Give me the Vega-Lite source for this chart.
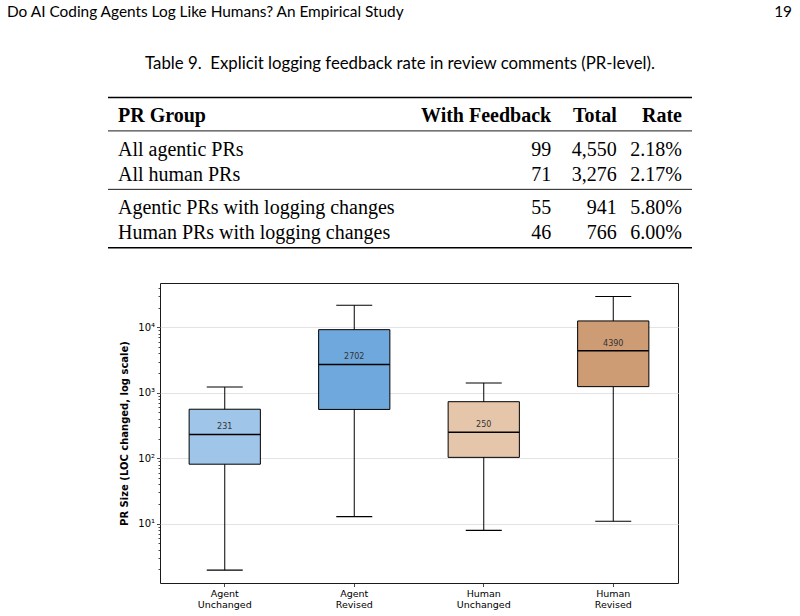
{
  "$schema": "https://vega.github.io/schema/vega-lite/v6.json",
  "padding": 0,
  "background": "white",
  "spacing": 0,
  "datasets": {
    "feedback": [
      {"group": "All agentic PRs", "with_feedback": 99, "total": 4550, "rate": 0.0218},
      {"group": "All human PRs", "with_feedback": 71, "total": 3276, "rate": 0.0217},
      {"group": "Agentic PRs with logging changes", "with_feedback": 55, "total": 941, "rate": 0.058},
      {"group": "Human PRs with logging changes", "with_feedback": 46, "total": 766, "rate": 0.06}
    ],
    "rules": [
      {"line": "rule top"},
      {"line": "rule header"},
      {"line": "rule groups"},
      {"line": "rule bottom"}
    ],
    "pr_size": [
      {"group": "Agent Unchanged", "lower": 1.95, "q1": 81, "median": 231, "q3": 560, "upper": 1222},
      {"group": "Agent Revised", "lower": 12.8, "q1": 556, "median": 2702, "q3": 9200, "upper": 21700},
      {"group": "Human Unchanged", "lower": 7.9, "q1": 103, "median": 250, "q3": 730, "upper": 1410},
      {"group": "Human Revised", "lower": 10.9, "q1": 1240, "median": 4390, "q3": 12500, "upper": 29500}
    ]
  },
  "vconcat": [
    {
      "width": 800,
      "height": 282,
      "view": {"stroke": null},
      "layer": [
        {
          "data": {"name": "rules"},
          "mark": {"type": "rule", "color": "black"},
          "encoding": {
            "x": {"datum": 0.135, "type": "quantitative", "scale": {"domain": [0, 1], "nice": false, "zero": false}, "axis": null},
            "x2": {"datum": 0.865},
            "y": {
              "field": "line",
              "type": "nominal",
              "axis": null,
              "scale": {
                "type": "point",
                "padding": 0,
                "range": [14, 247.8],
                "domain": ["running head", "g1", "g2", "g3", "g4", "g5", "caption", "g6", "g7", "g8", "rule top", "g9", "header", "g10", "rule header", "g11", "All agentic PRs", "g12", "g13", "All human PRs", "g14", "rule groups", "g15", "Agentic PRs with logging changes", "g16", "g17", "Human PRs with logging changes", "g18", "rule bottom"]
              }
            },
            "strokeWidth": {
              "condition": {"test": "datum.line === 'rule top' || datum.line === 'rule bottom'", "value": 1.5},
              "value": 0.9
            }
          }
        },
        {
          "data": {"values": [{"text": "Do AI Coding Agents Log Like Humans? An Empirical Study"}]},
          "mark": {"type": "text", "align": "left", "baseline": "middle", "font": "Lato", "fontSize": 15.4, "color": "black", "dy": -2},
          "encoding": {
            "x": {"datum": 0.00875, "type": "quantitative", "axis": null},
            "y": {"datum": "running head", "type": "nominal", "axis": null},
            "text": {"field": "text"}
          }
        },
        {
          "data": {"values": [{"text": "19"}]},
          "mark": {"type": "text", "align": "right", "baseline": "middle", "font": "Lato", "fontSize": 15.4, "color": "black", "dy": -2},
          "encoding": {
            "x": {"datum": 0.99, "type": "quantitative", "axis": null},
            "y": {"datum": "running head", "type": "nominal", "axis": null},
            "text": {"field": "text"}
          }
        },
        {
          "data": {"values": [{"text": "Table 9.\u00a0\u00a0Explicit logging feedback rate in review comments (PR-level)."}]},
          "mark": {"type": "text", "align": "center", "baseline": "middle", "font": "Lato", "fontSize": 16.8, "color": "black"},
          "encoding": {
            "x": {"datum": 0.5, "type": "quantitative", "axis": null},
            "y": {"datum": "caption", "type": "nominal", "axis": null},
            "text": {"field": "text"}
          }
        },
        {
          "data": {"values": [{"text": "PR Group"}]},
          "mark": {"type": "text", "align": "left", "baseline": "middle", "font": "Liberation Serif", "fontSize": 20, "fontWeight": "bold", "color": "black", "dy": 2},
          "encoding": {
            "x": {"datum": 0.1475, "type": "quantitative", "axis": null},
            "y": {"datum": "header", "type": "nominal", "axis": null},
            "text": {"field": "text"}
          }
        },
        {
          "data": {"values": [{"text": "With Feedback"}]},
          "mark": {"type": "text", "align": "right", "baseline": "middle", "font": "Liberation Serif", "fontSize": 20, "fontWeight": "bold", "color": "black", "dy": 2},
          "encoding": {
            "x": {"datum": 0.689, "type": "quantitative", "axis": null},
            "y": {"datum": "header", "type": "nominal", "axis": null},
            "text": {"field": "text"}
          }
        },
        {
          "data": {"values": [{"text": "Total"}]},
          "mark": {"type": "text", "align": "right", "baseline": "middle", "font": "Liberation Serif", "fontSize": 20, "fontWeight": "bold", "color": "black", "dy": 2},
          "encoding": {
            "x": {"datum": 0.771, "type": "quantitative", "axis": null},
            "y": {"datum": "header", "type": "nominal", "axis": null},
            "text": {"field": "text"}
          }
        },
        {
          "data": {"values": [{"text": "Rate"}]},
          "mark": {"type": "text", "align": "right", "baseline": "middle", "font": "Liberation Serif", "fontSize": 20, "fontWeight": "bold", "color": "black", "dy": 2},
          "encoding": {
            "x": {"datum": 0.8525, "type": "quantitative", "axis": null},
            "y": {"datum": "header", "type": "nominal", "axis": null},
            "text": {"field": "text"}
          }
        },
        {
          "data": {"name": "feedback"},
          "mark": {"type": "text", "align": "left", "baseline": "middle", "font": "Liberation Serif", "fontSize": 20, "color": "black", "dy": 2},
          "encoding": {
            "x": {"datum": 0.1475, "type": "quantitative", "axis": null},
            "y": {"field": "group", "type": "nominal", "axis": null},
            "text": {"field": "group"}
          }
        },
        {
          "data": {"name": "feedback"},
          "mark": {"type": "text", "align": "right", "baseline": "middle", "font": "Liberation Serif", "fontSize": 20, "color": "black", "dy": 2},
          "encoding": {
            "x": {"datum": 0.689, "type": "quantitative", "axis": null},
            "y": {"field": "group", "type": "nominal", "axis": null},
            "text": {"field": "with_feedback", "type": "quantitative", "format": "d"}
          }
        },
        {
          "data": {"name": "feedback"},
          "mark": {"type": "text", "align": "right", "baseline": "middle", "font": "Liberation Serif", "fontSize": 20, "color": "black", "dy": 2},
          "encoding": {
            "x": {"datum": 0.771, "type": "quantitative", "axis": null},
            "y": {"field": "group", "type": "nominal", "axis": null},
            "text": {"field": "total", "type": "quantitative", "format": ","}
          }
        },
        {
          "data": {"name": "feedback"},
          "mark": {"type": "text", "align": "right", "baseline": "middle", "font": "Liberation Serif", "fontSize": 20, "color": "black", "dy": 2},
          "encoding": {
            "x": {"datum": 0.8525, "type": "quantitative", "axis": null},
            "y": {"field": "group", "type": "nominal", "axis": null},
            "text": {"field": "rate", "type": "quantitative", "format": ".2%"}
          }
        }
      ]
    },
    {
      "spacing": 0,
      "hconcat": [
        {
          "width": 119,
          "height": 300,
          "view": {"stroke": null},
          "data": {"values": []},
          "mark": "point",
          "encoding": {}
        },
        {
          "width": 518,
          "height": 300,
          "view": {"stroke": "#1a1a1a", "strokeWidth": 1},
          "data": {"name": "pr_size"},
          "encoding": {
            "x": {
              "field": "group",
              "type": "nominal",
              "sort": ["Agent Unchanged", "Agent Revised", "Human Unchanged", "Human Revised"],
              "scale": {"paddingInner": 0, "paddingOuter": 0},
              "axis": {
                "title": null,
                "labelAngle": 0,
                "labelExpr": "split(datum.label, ' ')",
                "labelFont": "DejaVu Sans",
                "labelFontSize": 9.5,
                "labelColor": "black",
                "labelLineHeight": 11,
                "labelPadding": 2,
                "tickSize": 3.5,
                "tickColor": "#1a1a1a",
                "tickWidth": 0.8,
                "domain": false,
                "grid": false
              }
            }
          },
          "layer": [
            {
              "mark": {"type": "rule", "color": "black", "strokeWidth": 1},
              "encoding": {
                "y": {
                  "field": "lower",
                  "type": "quantitative",
                  "scale": {"type": "log", "domain": [1.24, 47500], "nice": false},
                  "axis": {
                    "title": "PR Size (LOC changed, log scale)",
                    "titleFont": "DejaVu Sans",
                    "titleFontSize": 10,
                    "titleFontWeight": "bold",
                    "titleColor": "black",
                    "titlePadding": 8,
                    "labelFont": "DejaVu Sans",
                    "labelFontSize": 10,
                    "labelColor": "black",
                    "labelPadding": 2,
                    "labelOverlap": false,
                    "labelFlush": false,
                    "labelBound": false,
                    "values": [2, 3, 4, 5, 6, 7, 8, 9, 10, 20, 30, 40, 50, 60, 70, 80, 90, 100, 200, 300, 400, 500, 600, 700, 800, 900, 1000, 2000, 3000, 4000, 5000, 6000, 7000, 8000, 9000, 10000, 20000, 30000, 40000],
                    "labelExpr": "datum.value == 10 ? '10¹' : datum.value == 100 ? '10²' : datum.value == 1000 ? '10³' : datum.value == 10000 ? '10⁴' : ''",
                    "tickSize": {"condition": {"test": "datum.value == 10 || datum.value == 100 || datum.value == 1000 || datum.value == 10000", "value": 3.5}, "value": 2},
                    "tickColor": "#1a1a1a",
                    "tickWidth": 0.8,
                    "domain": false,
                    "grid": true,
                    "gridColor": "#e3e3e3",
                    "gridWidth": 1,
                    "gridOpacity": {"condition": {"test": "datum.value == 10 || datum.value == 100 || datum.value == 1000 || datum.value == 10000", "value": 1}, "value": 0}
                  }
                },
                "y2": {"field": "upper"}
              }
            },
            {
              "mark": {"type": "bar", "width": {"band": 0.55}, "stroke": "black", "strokeWidth": 1, "opacity": 1},
              "encoding": {
                "y": {"field": "q1", "type": "quantitative"},
                "y2": {"field": "q3"},
                "fill": {
                  "field": "group",
                  "type": "nominal",
                  "scale": {
                    "domain": ["Agent Unchanged", "Agent Revised", "Human Unchanged", "Human Revised"],
                    "range": ["#9fc5e8", "#6fa8dc", "#e5c6ab", "#cd9b74"]
                  },
                  "legend": null
                }
              }
            },
            {
              "mark": {"type": "tick", "color": "black", "size": 71, "thickness": 1.5, "opacity": 1},
              "encoding": {"y": {"field": "median", "type": "quantitative"}}
            },
            {
              "mark": {"type": "tick", "color": "black", "size": 36, "thickness": 1.1, "opacity": 1},
              "encoding": {"y": {"field": "lower", "type": "quantitative"}}
            },
            {
              "mark": {"type": "tick", "color": "black", "size": 36, "thickness": 1.1, "opacity": 1},
              "encoding": {"y": {"field": "upper", "type": "quantitative"}}
            },
            {
              "mark": {"type": "text", "font": "DejaVu Sans", "fontSize": 8, "color": "#333333", "baseline": "middle", "dy": -7},
              "encoding": {
                "y": {"field": "median", "type": "quantitative"},
                "text": {"field": "median", "type": "quantitative", "format": "d"}
              }
            }
          ]
        }
      ]
    }
  ]
}
